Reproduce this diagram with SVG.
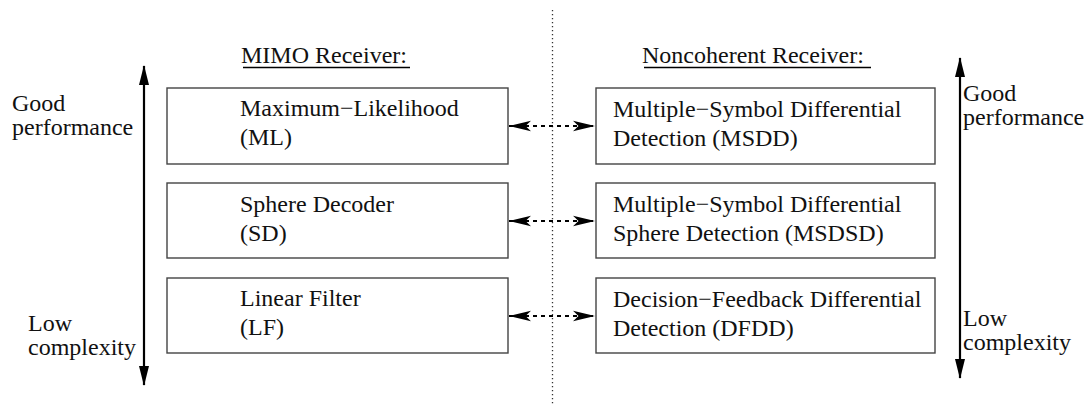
<svg xmlns="http://www.w3.org/2000/svg" width="1088" height="405" viewBox="0 0 1088 405">
<style>
text{font-family:"Liberation Serif","Times New Roman",serif;font-size:24px;fill:#111}
.box{fill:#fff;stroke:#444;stroke-width:1.4}
.ax{stroke:#000;stroke-width:2.2;fill:none}
.da{stroke:#000;stroke-width:2.2;stroke-dasharray:4 4;fill:none}
.ul{stroke:#000;stroke-width:1.3}
</style>
<defs>
<marker id="ah" viewBox="0 0 20 10" refX="19" refY="5" markerWidth="20" markerHeight="10" markerUnits="userSpaceOnUse" orient="auto-start-reverse">
<path d="M0,0 L20,5 L0,10 Z" fill="#000"/>
</marker>
<marker id="sw" viewBox="0 0 20 10" refX="20" refY="5" markerWidth="22" markerHeight="12" markerUnits="userSpaceOnUse" orient="auto-start-reverse">
<path d="M0,0.3 L20,5 L0,9.7 L5,5 Z" fill="#000"/>
</marker>
</defs>
<g id="divider"><line x1="552.5" y1="10" x2="552.5" y2="405" stroke="#333" stroke-width="1.3" stroke-dasharray="1.3 2.7"/></g>
<g id="header-left"><text x="241" y="63">MIMO Receiver:</text><line class="ul" x1="243" y1="67.5" x2="410" y2="67.5"/></g>
<g id="header-right"><text x="642" y="63">Noncoherent Receiver:</text><line class="ul" x1="644" y1="67.5" x2="871" y2="67.5"/></g>
<g id="axis-left">
<line class="ax" x1="144" y1="66" x2="144" y2="385" marker-start="url(#ah)" marker-end="url(#ah)"/>
<text x="12" y="111">Good</text><text x="12" y="135">performance</text>
<text x="28" y="331">Low</text><text x="28" y="355">complexity</text>
</g>
<g id="axis-right">
<line class="ax" x1="960" y1="58" x2="960" y2="378" marker-start="url(#ah)" marker-end="url(#ah)"/>
<text x="963" y="101">Good</text><text x="963" y="125">performance</text>
<text x="963" y="326">Low</text><text x="963" y="350">complexity</text>
</g>
<g id="ml"><rect class="box" x="167" y="88" width="341" height="76"/><text x="240" y="116">Maximum−Likelihood</text><text x="240" y="145">(ML)</text></g>
<g id="sd"><rect class="box" x="167" y="183" width="341" height="75"/><text x="240" y="212">Sphere Decoder</text><text x="240" y="241">(SD)</text></g>
<g id="lf"><rect class="box" x="167" y="278" width="341" height="75"/><text x="240" y="306">Linear Filter</text><text x="240" y="335">(LF)</text></g>
<g id="msdd"><rect class="box" x="596" y="88" width="339" height="76"/><text x="613" y="117">Multiple−Symbol Differential</text><text x="613" y="146">Detection (MSDD)</text></g>
<g id="msdsd"><rect class="box" x="596" y="183" width="339" height="75"/><text x="613" y="212">Multiple−Symbol Differential</text><text x="613" y="241">Sphere Detection (MSDSD)</text></g>
<g id="dfdd"><rect class="box" x="596" y="278" width="339" height="75"/><text x="613" y="307">Decision−Feedback Differential</text><text x="613" y="336">Detection (DFDD)</text></g>
<g id="connectors">
<line class="da" x1="509" y1="126" x2="595" y2="126" marker-start="url(#sw)" marker-end="url(#sw)"/>
<line class="da" x1="509" y1="221" x2="595" y2="221" marker-start="url(#sw)" marker-end="url(#sw)"/>
<line class="da" x1="509" y1="316" x2="595" y2="316" marker-start="url(#sw)" marker-end="url(#sw)"/>
</g>
</svg>
